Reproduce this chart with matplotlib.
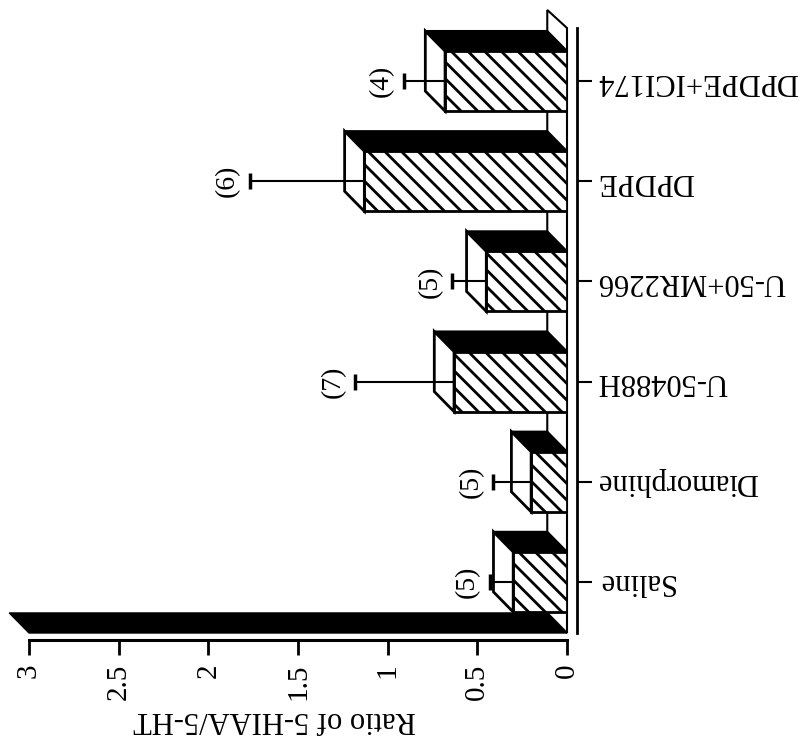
import numpy as np
import matplotlib
matplotlib.use("Agg")
import matplotlib.pyplot as plt
from matplotlib.patches import Polygon

categories = ["Saline", "Diamorphine", "U-50488H", "U-50+MR2266", "DPDPE", "DPDPE+ICI174"]
ratio = [0.30, 0.20, 0.63, 0.45, 1.13, 0.68]
sem = [0.13, 0.21, 0.55, 0.19, 0.64, 0.23]
n_animals = [5, 5, 7, 5, 6, 4]
ticks = [0, 0.5, 1, 1.5, 2, 2.5, 3]
tick_labels = ["0", "0.5", "1", "1.5", "2", "2.5", "3"]

plt.rcParams["font.family"] = ["Liberation Serif", "DejaVu Serif"]
plt.rcParams["hatch.linewidth"] = 2.0

fig = plt.figure(figsize=(8.01, 7.45), dpi=100)
ax = fig.add_axes([29 / 801, 105 / 745, 538 / 801, 612 / 745])
ax.set_xlim(3, 0)
ax.set_ylim(-0.58, 5.53)

pos = np.arange(len(categories))
dx, dy = 0.11, 0.2   # 3d depth offset
half = 0.3
floor_y = -0.51
top_y = 5.53

# floor slab and back wall of the 3d box
ax.add_patch(Polygon([(0, floor_y), (3, floor_y), (3 + dx, floor_y + dy), (dx, floor_y + dy)],
                     closed=True, fc="black", ec="black", clip_on=False, zorder=1))
ax.add_patch(Polygon([(0, floor_y), (0, top_y), (dx, top_y + 0.18), (dx, floor_y + dy)],
                     closed=True, fc="white", ec="black", lw=1.5, clip_on=False, zorder=1.5))

# front faces
ax.barh(pos, ratio, height=2 * half, color="white", edgecolor="black", hatch="\\\\",
        linewidth=2, zorder=3)

# top and side faces
for c, v in zip(pos, ratio):
    ax.add_patch(Polygon([(0, c + half), (v, c + half), (v + dx, c + half + dy), (dx, c + half + dy)],
                         closed=True, fc="black", ec="black", lw=1.5, zorder=3))
    ax.add_patch(Polygon([(v, c - half), (v, c + half), (v + dx, c + half + dy), (v + dx, c - half + dy)],
                         closed=True, fc="white", ec="black", lw=2, zorder=3))

# error bars (upper only)
ends = np.array(ratio) + np.array(sem)
ax.hlines(pos, ratio, ends, color="black", lw=1.5, zorder=4)
ax.plot(ends, pos, ls="none", marker="|", ms=12, mew=2.5, color="black", zorder=4)

for c, e, n in zip(pos, ends, n_animals):
    ax.annotate(f"({n})", xy=(e, c), xytext=(-16, 0), textcoords="offset points",
                rotation=90, ha="center", va="center", fontsize=20)

# axes styling
ax.spines["top"].set_visible(False)
ax.spines["left"].set_visible(False)
ax.spines["right"].set_position(("outward", 7))
ax.spines["right"].set_bounds(floor_y, top_y)
ax.spines["right"].set_linewidth(2)
ax.spines["bottom"].set_bounds(0, 3)
ax.spines["bottom"].set_linewidth(2.2)

ax.yaxis.tick_right()
ax.set_yticks(pos)
ax.set_yticklabels(categories, rotation=180, va="center", fontsize=22)
ax.tick_params(axis="y", direction="out", length=11, width=1.5, pad=4)

ax.set_xticks(ticks)
ax.set_xticklabels(tick_labels, rotation=90, fontsize=21)
ax.tick_params(axis="x", direction="out", length=11, width=2, pad=6)

fig.text(275 / 801, 1 - 720 / 745, "Ratio of 5-HIAA/5-HT", rotation=180,
         ha="center", va="center", fontsize=22)

fig.savefig("out.png", dpi=100)
